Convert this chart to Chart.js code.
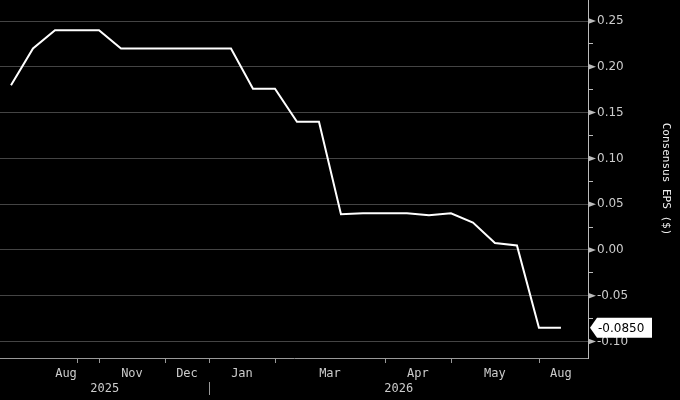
<!DOCTYPE html>
<html>
<head>
<meta charset="utf-8">
<script src="https://cdn.jsdelivr.net/npm/chart.js@4/dist/chart.umd.min.js"></script>
<style>
  html, body { margin: 0; padding: 0; background: #000; }
  #wrap { width: 680px; height: 400px; }
</style>
</head>
<body>
<div id="wrap"><canvas id="mycanvas" width="680" height="400"></canvas></div>
<script>
// consensus EPS, one value per revision (evenly spaced on the chart)
var eps = [0.18, 0.22, 0.24, 0.24, 0.24, 0.22, 0.22, 0.22, 0.22, 0.22, 0.22,
           0.176, 0.176, 0.14, 0.14, 0.039, 0.04, 0.04, 0.04, 0.038, 0.04,
           0.03, 0.0075, 0.005, -0.085, -0.085];

// month labels and where they sit (in point index units)
var monthLabels = ['Aug', 'Nov', 'Dec', 'Jan', 'Mar', 'Apr', 'May', 'Aug'];
var monthPos = [2.5, 5.5, 8, 10.5, 14.5, 18.5, 22, 25];
// month boundary tick marks
var monthTicks = [3, 4, 7, 9, 12, 17, 20, 24];
var yearLabels = ['2025', '2026'];
var yearSplit = 9;

var yTicks = [];
for (var k = -4; k <= 10; k++) yTicks.push(k * 0.025);

function isMajor(v) {
  return Math.abs(v * 20 - Math.round(v * 20)) < 1e-6;
}

var points = [];
for (var i in eps) {
  points.push({ x: Number(i), y: eps[i] });
}

var extras = {
  id: 'extras',
  afterDraw: function(chart) {
    var ctx = chart.ctx;
    var xs = chart.scales.x, ys = chart.scales.y;
    var area = chart.chartArea;
    ctx.save();

    // month boundary ticks
    ctx.strokeStyle = '#999';
    ctx.lineWidth = 1;
    monthTicks.forEach(function(t) {
      var px = Math.round(xs.getPixelForValue(t)) + 0.5;
      ctx.beginPath();
      ctx.moveTo(px, area.bottom);
      ctx.lineTo(px, area.bottom + 5);
      ctx.stroke();
    });

    // year separator + year labels
    var sx = Math.round(xs.getPixelForValue(yearSplit)) + 0.5;
    ctx.beginPath();
    ctx.moveTo(sx, area.bottom + 24);
    ctx.lineTo(sx, area.bottom + 37);
    ctx.stroke();
    ctx.fillStyle = '#ccc';
    ctx.font = '12px "DejaVu Sans Mono"';
    ctx.textAlign = 'center';
    ctx.textBaseline = 'middle';
    ctx.fillText(yearLabels[0], (area.left + sx) / 2, area.bottom + 31);
    ctx.fillText(yearLabels[1], (sx + area.right) / 2, area.bottom + 31);

    // triangle markers at major y ticks
    ctx.fillStyle = '#bbb';
    yTicks.forEach(function(v) {
      if (!isMajor(v)) return;
      var py = ys.getPixelForValue(v);
      ctx.beginPath();
      ctx.moveTo(area.right, py - 3);
      ctx.lineTo(area.right + 8, py);
      ctx.lineTo(area.right, py + 3);
      ctx.closePath();
      ctx.fill();
    });

    // last value tag
    var last = eps[eps.length - 1];
    var ly = ys.getPixelForValue(last);
    var bx = area.right + 2;
    ctx.fillStyle = '#fff';
    ctx.beginPath();
    ctx.moveTo(bx, ly);
    ctx.lineTo(bx + 7, ly - 10);
    ctx.lineTo(bx + 62, ly - 10);
    ctx.lineTo(bx + 62, ly + 10);
    ctx.lineTo(bx + 7, ly + 10);
    ctx.closePath();
    ctx.fill();
    ctx.fillStyle = '#000';
    ctx.font = '12px "DejaVu Sans"';
    ctx.textAlign = 'left';
    ctx.fillText(last.toFixed(4), bx + 8, ly + 1);

    ctx.restore();
  }
};

var ctx = document.getElementById('mycanvas');

var lineChart = new Chart(ctx, {
  type: 'line',
  data: {
    datasets: [{
      label: 'Consensus EPS',
      data: points,
      borderColor: '#fff',
      borderWidth: 2,
      pointRadius: 0,
      tension: 0,
      fill: false
    }]
  },
  options: {
    responsive: false,
    animation: false,
    layout: { padding: 0 },
    plugins: {
      legend: { display: false },
      tooltip: { enabled: false }
    },
    scales: {
      x: {
        type: 'linear',
        min: -0.5,
        max: 26.23,
        afterBuildTicks: function(scale) {
          scale.ticks = monthPos.map(function(v) { return { value: v }; });
        },
        afterFit: function(scale) {
          scale.height = 42;
          scale.paddingLeft = 0;
          scale.paddingRight = 0;
        },
        grid: { display: true, drawOnChartArea: false, drawTicks: false },
        border: { display: true, color: '#999', width: 1 },
        ticks: {
          autoSkip: false,
          maxRotation: 0,
          padding: 9,
          color: '#ccc',
          font: { family: 'DejaVu Sans Mono', size: 12 },
          callback: function(v, idx) { return monthLabels[idx]; }
        }
      },
      y: {
        position: 'right',
        min: -0.118,
        max: 0.273,
        afterBuildTicks: function(scale) {
          scale.ticks = yTicks.map(function(v) { return { value: v }; });
        },
        afterFit: function(scale) {
          scale.width = 92;
          scale.paddingTop = 0;
          scale.paddingBottom = 0;
        },
        grid: {
          color: function(c) { return c.tick && isMajor(c.tick.value) ? '#444' : 'transparent'; },
          tickColor: function(c) { return c.tick && isMajor(c.tick.value) ? 'transparent' : '#bbb'; },
          tickLength: 5,
          lineWidth: 1
        },
        border: { display: true, color: '#bbb', width: 1 },
        ticks: {
          padding: 4,
          color: '#ccc',
          font: { family: 'DejaVu Sans', size: 12 },
          callback: function(v) { return isMajor(v) ? v.toFixed(2) : ''; }
        },
        title: {
          display: true,
          text: 'Consensus EPS ($)',
          color: '#eee',
          font: { family: 'DejaVu Sans Mono', size: 11 },
          padding: { top: 8, bottom: 4 }
        }
      }
    }
  },
  plugins: [extras]
});
</script>
</body>
</html>
